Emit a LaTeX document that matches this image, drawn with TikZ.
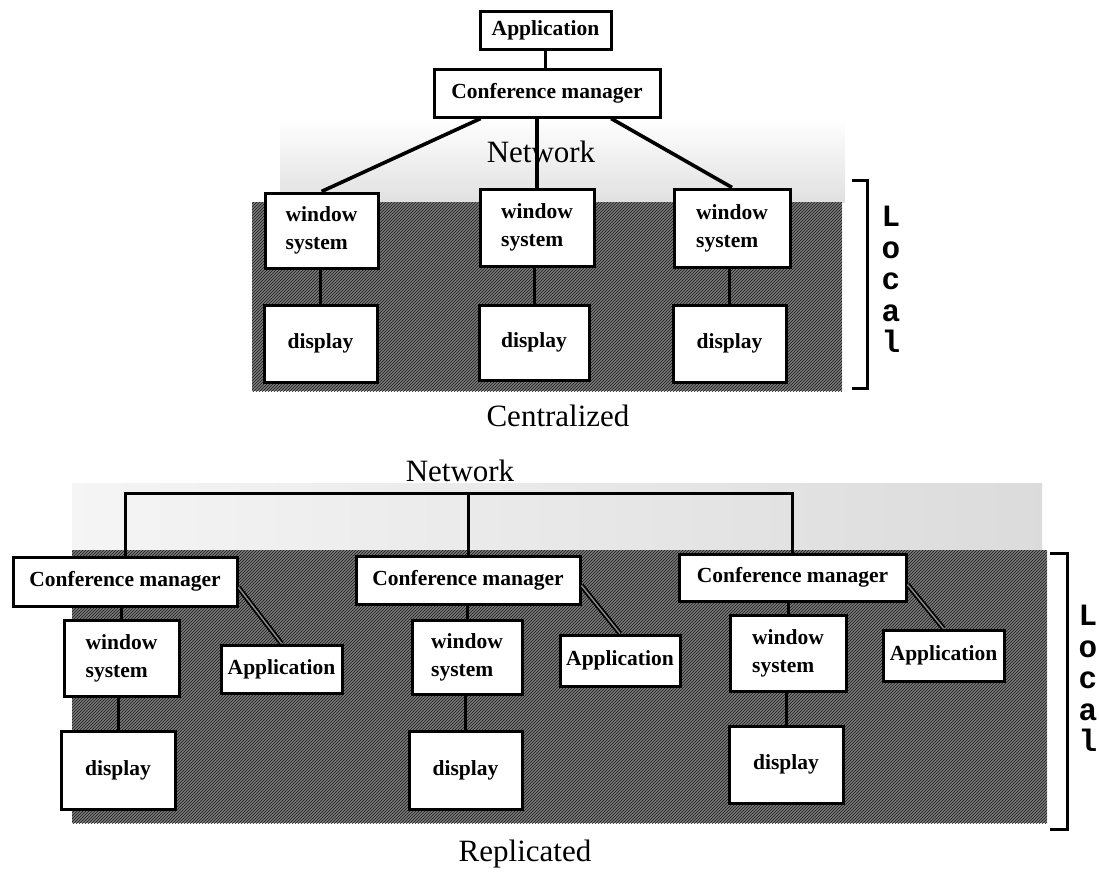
\documentclass[tikz,border=0pt]{standalone}
\usepackage{fontspec}
\setmainfont{Liberation Serif}
\newfontfamily\letterfont{Liberation Mono}
\usetikzlibrary{patterns,calc}
\begin{document}
\begin{tikzpicture}[x=1pt,y=-1pt,
  box/.style={draw=black, line width=3pt, fill=white, inner sep=0pt,
    font=\bfseries\fontsize{21.5}{28}\selectfont},
  wsys/.style={box, align=left},
  link/.style={line width=3pt},
  thicklink/.style={line width=3.6pt},
  applink/.style={line width=1.8pt, double=black!45, double distance=1.4pt},
  caption/.style={inner sep=0pt, font=\fontsize{31}{34}\selectfont},
  localtxt/.style={inner sep=0pt, align=center,
    font=\letterfont\bfseries\fontsize{31}{31.5}\selectfont},
  hatch/.style={fill=black!52, postaction={pattern=north east lines, pattern color=black!90}},
  bracket/.style={line width=3pt}
]
\useasboundingbox (0,0) rectangle (1099,873);

% ---------- Centralized ----------
% network haze and local shaded band
\shade[top color=white, bottom color=black!12] (280,118) rectangle (845,202);
\fill[hatch] (252,202) rectangle (842,391);

\node[box, minimum width=131pt, minimum height=38pt] (tapp) at (545.5,30) {Application};
\node[box, minimum width=226pt, minimum height=48pt] (tcm) at (547,93) {Conference manager};

\node[wsys, minimum width=113pt, minimum height=75pt] (tw1) at (321.5,230.5) {window\\system};
\node[wsys, minimum width=114pt, minimum height=77pt] (tw2) at (537,227.5) {window\\system};
\node[wsys, minimum width=116pt, minimum height=78pt] (tw3) at (732,228) {window\\system};

\node[box, minimum width=113pt, minimum height=77pt] (td1) at (320.5,343.5) {display};
\node[box, minimum width=110pt, minimum height=75pt] (td2) at (534,342.5) {display};
\node[box, minimum width=113pt, minimum height=77pt] (td3) at (729.5,343.5) {display};

\draw[link] (tapp.south) -- (tapp.south |- tcm.north);
\draw[thicklink] ($(tcm.south west)!0.21!(tcm.south east)$) -- (tw1.north);
\draw[thicklink] (tw2.north |- tcm.south) -- (tw2.north);
\draw[thicklink] ($(tcm.south west)!0.78!(tcm.south east)$) -- (tw3.north);
\draw[link] (td1.north |- tw1.south) -- (td1.north);
\draw[link] (td2.north |- tw2.south) -- (td2.north);
\draw[link] (td3.north |- tw3.south) -- (td3.north);

\node[caption] (tnet) at (541,152) {Network};
\node[caption] (tcap) at (558,416) {Centralized};

\draw[bracket] (852,180) -- (867,180) -- (867,388) -- (852,388);
\node[localtxt, anchor=north] (tloc) at (891,206) {L\\o\\c\\a\\l};

% ---------- Replicated ----------
\shade[left color=black!4, right color=black!14] (72,483) rectangle (1042,552);
\fill[hatch] (72,550) rectangle (1047,823);

\coordinate (net) at (0,493);

\node[box, minimum width=224pt, minimum height=49pt] (cm1) at (125,581.5) {Conference manager};
\node[box, minimum width=224pt, minimum height=48pt] (cm2) at (468,580) {Conference manager};
\node[box, minimum width=227pt, minimum height=47pt] (cm3) at (792.5,577.5) {Conference manager};

\node[wsys, minimum width=115pt, minimum height=76pt] (w1) at (121.5,658) {window\\system};
\node[wsys, minimum width=110pt, minimum height=74pt] (w2) at (467,657) {window\\system};
\node[wsys, minimum width=116pt, minimum height=76pt] (w3) at (788,653) {window\\system};

\node[box, minimum width=114pt, minimum height=78pt] (d1) at (118,770) {display};
\node[box, minimum width=113pt, minimum height=78pt] (d2) at (465.5,770) {display};
\node[box, minimum width=114pt, minimum height=77pt] (d3) at (786,764.5) {display};

\node[box, minimum width=121pt, minimum height=48pt] (a1) at (281.5,669) {Application};
\node[box, minimum width=120pt, minimum height=51pt] (a2) at (620,660.5) {Application};
\node[box, minimum width=121pt, minimum height=51pt] (a3) at (943.5,655.5) {Application};

\draw[link] (cm1.north) -- (cm1.north |- net) -- (cm3.north |- net) -- (cm3.north);
\draw[link] (cm2.north |- net) -- (cm2.north);

\draw[link] (w1.north |- cm1.south) -- (w1.north);
\draw[link] (w2.north |- cm2.south) -- (w2.north);
\draw[link] (w3.north |- cm3.south) -- (w3.north);
\draw[link] (d1.north |- w1.south) -- (d1.north);
\draw[link] (d2.north |- w2.south) -- (d2.north);
\draw[link] (d3.north |- w3.south) -- (d3.north);

\draw[applink] ($(cm1.south east)+(0,-20)$) -- (a1.north);
\draw[applink] ($(cm2.south east)+(0,-20)$) -- (a2.north);
\draw[applink] ($(cm3.south east)+(0,-18)$) -- (a3.north);

\node[caption] (bnet) at (460,471) {Network};
\node[caption] (bcap) at (525,854) {Replicated};

\draw[bracket] (1050,553) -- (1067,553) -- (1067,829) -- (1050,829);
\node[localtxt, anchor=north] (bloc) at (1088,605) {L\\o\\c\\a\\l};
\end{tikzpicture}
\end{document}
